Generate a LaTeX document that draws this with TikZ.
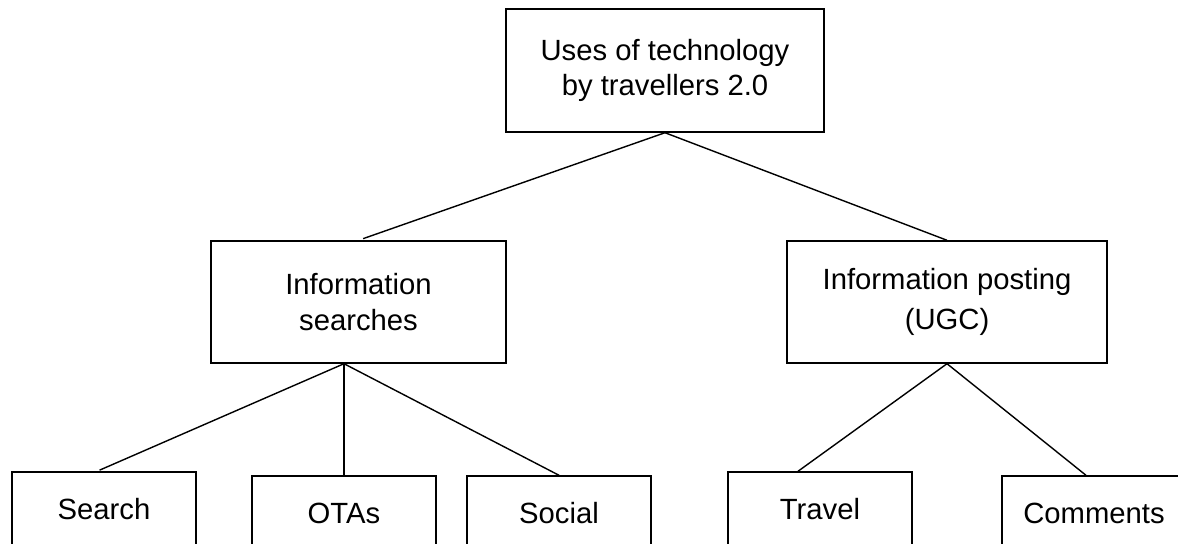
\documentclass[tikz,border=0pt]{standalone}
\usepackage{fontspec}
\setmainfont{Liberation Sans}

\begin{document}
\begin{tikzpicture}[x=0.025cm, y=-0.025cm, line width=1pt, mynode/.style={rectangle, draw, align=center, inner sep=0pt, minimum height=3.05cm}, leaf/.style={mynode, minimum width=4.6cm, minimum height=1.85cm}, every node/.style={font=\fontsize{20.8}{25}\selectfont}]

  \useasboundingbox (0,0) rectangle (1178,544);

  \node[mynode, minimum width=7.95cm, minimum height=3.075cm] (uses) at (665,70.5) {Uses of technology\\by travellers 2.0};
  \node[mynode, minimum width=7.375cm] (searches) at (358.5,302) {Information\\searches};
  \node[mynode, minimum width=8cm, font=\fontsize{20.8}{28}\selectfont] (posting) at (947,302) {Information posting\\(UGC)};
  % bottom row runs off the lower edge
  \node[leaf] (search) at (104,509) {Search};
  \node[leaf] (otas) at (344,513) {OTAs};
  \node[leaf] (social) at (559,513) {Social};
  \node[leaf] (travel) at (820,509) {Travel};
  \node[leaf] (comments) at (1094,513) {Comments};

  \path
    (uses.south) edge[shorten >=3.5pt] (searches.north)
    (uses.south) edge (posting.north)
    (searches.south -| otas.north) edge[shorten >=2pt] ([xshift=-0.175cm]search.north)
    (searches.south -| otas.north) edge (otas.north)
    (searches.south -| otas.north) edge (social.north)
    (posting.south) edge ([xshift=-0.55cm]travel.north)
    (posting.south) edge ([xshift=-0.2cm]comments.north)
  ;
\end{tikzpicture}
\end{document}
